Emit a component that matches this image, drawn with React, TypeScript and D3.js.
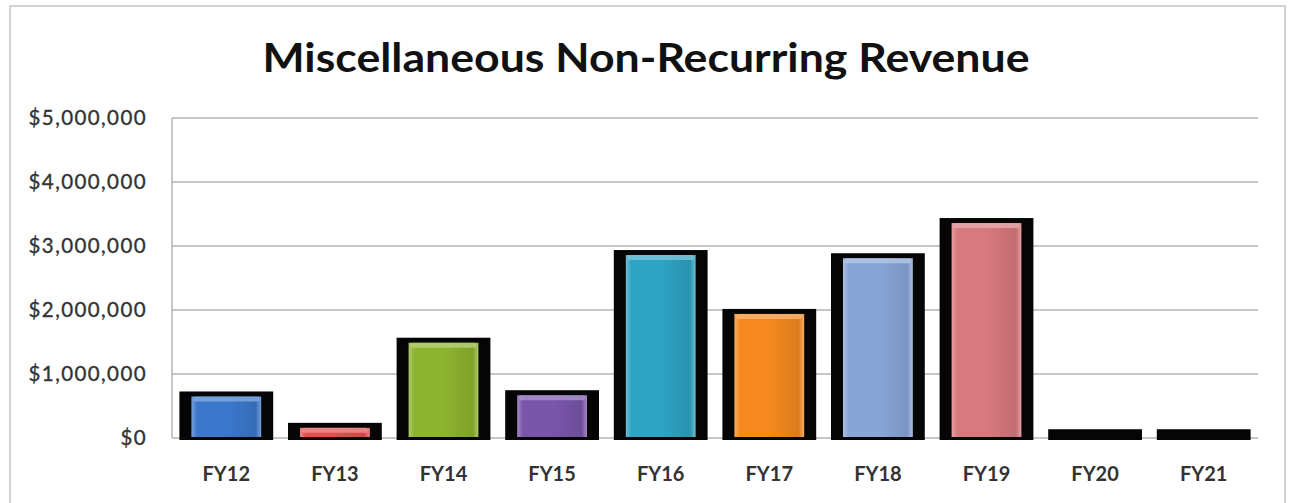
import React from "react";
import * as d3 from "d3";

// Fiscal-year revenue figures (USD)
const categories = ["FY12", "FY13", "FY14", "FY15", "FY16", "FY17", "FY18", "FY19", "FY20", "FY21"];
const revenue = [680000, 190000, 1520000, 700000, 2890000, 1970000, 2840000, 3390000, 90000, 90000];
const barColors = ["#3b78cc", "#e2504e", "#8db42e", "#7a56ab", "#2ea3c4", "#f5891f", "#89a5d8", "#d8797d", "#b9d27a", "#a48ec0"];
const yTicks = [0, 1000000, 2000000, 3000000, 4000000, 5000000];
const title = "Miscellaneous Non-Recurring Revenue";

const W = 1290;
const H = 503;
const plot = { left: 172, right: 1258, top: 118, bottom: 438 };

export default function App() {
  const x = d3
    .scaleBand<string>()
    .domain(categories)
    .range([plot.left, plot.right])
    .paddingInner(0.21)
    .paddingOuter(0.105);
  const y = d3.scaleLinear().domain([0, 5000000]).range([plot.bottom, plot.top]);
  const fmt = d3.format("$,.0f");

  return (
    <svg
      width={W}
      height={H}
      style={{ position: "fixed", left: 0, top: 0, background: "#fff" }}
      fontFamily="Lato, 'Open Sans', sans-serif"
    >
      <defs>
        {barColors.map((c, i) => {
          const light = d3.interpolateRgb(c, "#ffffff")(0.3);
          const dark = d3.interpolateRgb(c, "#000000")(0.1);
          return (
            <linearGradient key={i} id={`side-${i}`} x1="0" x2="1" y1="0" y2="0">
              <stop offset="0" stopColor={light} />
              <stop offset="0.08" stopColor={c} />
              <stop offset="0.5" stopColor={c} />
              <stop offset="0.92" stopColor={dark} />
              <stop offset="1" stopColor={light} />
            </linearGradient>
          );
        })}
      </defs>

      {/* chart frame */}
      <rect x={10} y={6} width={1275} height={510} fill="#fff" stroke="#c4c4c4" strokeWidth={1.5} />

      <text
        x={646}
        y={72}
        textAnchor="middle"
        fontSize={40}
        fontWeight={700}
        fill="#111"
        textLength={767}
        lengthAdjust="spacingAndGlyphs"
      >
        {title}
      </text>

      {/* gridlines */}
      {yTicks.map((t) => (
        <line
          key={t}
          x1={plot.left}
          x2={plot.right}
          y1={y(t)}
          y2={y(t)}
          stroke="#b4b4b4"
          strokeWidth={1.5}
        />
      ))}
      <line x1={plot.left} x2={plot.left} y1={plot.top} y2={plot.bottom} stroke="#b4b4b4" strokeWidth={1.5} />

      {/* y-axis labels */}
      {yTicks.map((t) => (
        <text
          key={t}
          x={147}
          y={y(t)}
          dy="0.36em"
          textAnchor="end"
          fontSize={20.5}
          fill="#333"
          stroke="#333"
          strokeWidth={0.35}
          letterSpacing={1.4}
        >
          {fmt(t)}
        </text>
      ))}

      {/* bars: heavy black frame with a beveled coloured face */}
      {categories.map((cat, i) => {
        const bx = x(cat)!;
        const bw = x.bandwidth();
        const vy = y(revenue[i]);
        const ox = bx - 4;
        const ow = bw + 8;
        const oy = vy - 3;
        const oh = plot.bottom + 2 - oy;
        const ix = ox + 12;
        const iw = ow - 24;
        const iy = vy + 2;
        const ih = plot.bottom - 1 - iy;
        const hi = d3.interpolateRgb(barColors[i], "#ffffff")(0.4);
        return (
          <g key={cat}>
            <rect x={ox} y={oy} width={ow} height={oh} fill="#050505" />
            {ih > 4 && (
              <>
                <rect x={ix} y={iy} width={iw} height={ih} fill={`url(#side-${i})`} />
                <rect x={ix + 2} y={iy} width={iw - 4} height={Math.min(5, ih)} rx={2} fill={hi} opacity={0.75} />
              </>
            )}
          </g>
        );
      })}

      {/* x-axis labels */}
      {categories.map((cat) => (
        <text
          key={cat}
          x={x(cat)! + x.bandwidth() / 2}
          y={481}
          textAnchor="middle"
          fontSize={20}
          fontWeight={700}
          fill="#333"
        >
          {cat}
        </text>
      ))}
    </svg>
  );
}
